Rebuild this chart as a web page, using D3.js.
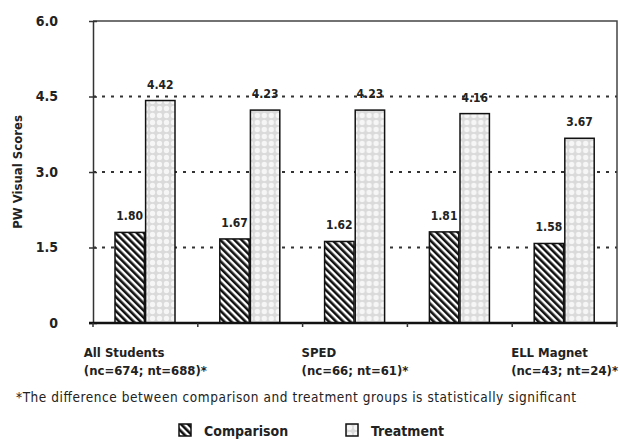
<!DOCTYPE html>
<html>
<head>
<meta charset="utf-8">
<script src="https://cdn.jsdelivr.net/npm/d3@7"></script>
<style>
    body { margin: 0; background: #fff; }
    #chart { width: 619px; height: 443px; }
    text { font-family: "Liberation Sans Narrow", "DejaVu Sans Condensed", Arial, sans-serif; fill: #222; }
</style>
</head>
<body>
<div id="chart"></div>
<script>
// values
var groups = ["All Students", "", "SPED", "", "ELL Magnet"];
var groupNotes = ["(nc=674; nt=688)*", "", "(nc=66; nt=61)*", "", "(nc=43; nt=24)*"];
var series = ["Comparison", "Treatment"];
var comparison = [1.80, 1.67, 1.62, 1.81, 1.58];
var treatment = [4.42, 4.23, 4.23, 4.16, 3.67];
var yTicks = [0, 1.5, 3.0, 4.5, 6.0];
var footnote = "*The difference between comparison and treatment groups is statistically significant";

var width = 619, height = 443;
var plotLeft = 93, plotRight = 617, plotTop = 21, plotBottom = 323;
var fontStack = "\"Liberation Sans Narrow\", \"DejaVu Sans Condensed\", Arial, sans-serif";

var svg = d3.select("#chart")
    .append("svg")
    .attr("width", width)
    .attr("height", height);

var defs = svg.append("defs");

// diagonal hatch for comparison
var hatch = defs.append("pattern")
    .attr("id", "hatch")
    .attr("patternUnits", "userSpaceOnUse")
    .attr("width", 5)
    .attr("height", 5)
    .attr("patternTransform", "rotate(-45)");
hatch.append("rect").attr("width", 5).attr("height", 5).attr("fill", "#fff");
hatch.append("rect").attr("width", 2.6).attr("height", 5).attr("fill", "#111");

// light dotted fill for treatment
var dots = defs.append("pattern")
    .attr("id", "dots")
    .attr("patternUnits", "userSpaceOnUse")
    .attr("width", 7)
    .attr("height", 7);
dots.append("rect").attr("width", 7).attr("height", 7).attr("fill", "#dadada");
dots.append("circle").attr("cx", 3.5).attr("cy", 3.5).attr("r", 2.7).attr("fill", "#f6f6f6");

var x0 = d3.scaleBand()
    .domain(d3.range(groups.length))
    .range([plotLeft, plotRight]);

var x1 = d3.scaleBand()
    .domain(series)
    .range([22, 82])
    .paddingInner(0.04);

var y = d3.scaleLinear()
    .domain([0, 6])
    .range([plotBottom, plotTop]);

var fills = { "Comparison": "url(#hatch)", "Treatment": "url(#dots)" };

// dotted gridlines
svg.selectAll("line.grid")
    .data(yTicks.filter(function(d) { return d > 0 && d < 6; }))
    .enter()
    .append("line")
        .attr("class", "grid")
        .attr("x1", plotLeft)
        .attr("x2", plotRight)
        .attr("y1", function(d) { return y(d); })
        .attr("y2", function(d) { return y(d); })
        .attr("stroke", "#333")
        .attr("stroke-width", 2)
        .attr("stroke-dasharray", "3,6");

// frame top and right
svg.append("path")
    .attr("d", "M" + plotLeft + "," + y(6) + "H" + plotRight + "V" + y(0))
    .attr("fill", "none")
    .attr("stroke", "#444")
    .attr("stroke-width", 1.5);

var rows = groups.map(function(g, i) {
    return [
        { key: "Comparison", value: comparison[i] },
        { key: "Treatment", value: treatment[i] }
    ];
});

var g = svg.selectAll("g.group")
    .data(rows)
    .enter()
    .append("g")
        .attr("class", "group")
        .attr("transform", function(d, i) { return "translate(" + x0(i) + ",0)"; });

g.selectAll("rect")
    .data(function(d) { return d; })
    .enter()
    .append("rect")
        .attr("x", function(d) { return x1(d.key); })
        .attr("width", x1.bandwidth())
        .attr("y", function(d) { return y(d.value); })
        .attr("height", function(d) { return y(0) - y(d.value); })
        .attr("fill", function(d) { return fills[d.key]; })
        .attr("stroke", "#111")
        .attr("stroke-width", 1.5);

g.selectAll("text.val")
    .data(function(d) { return d; })
    .enter()
    .append("text")
        .attr("class", "val")
        .attr("x", function(d) { return x1(d.key) + x1.bandwidth() / 2; })
        .attr("y", function(d) { return y(d.value) - 12; })
        .attr("text-anchor", "middle")
        .attr("font-size", 12)
        .attr("font-weight", "bold")
        .text(function(d) { return d.value.toFixed(2); });

// y axis
var yAxis = d3.axisLeft(y)
    .tickValues(yTicks)
    .tickFormat(function(d) { return d === 0 ? "0" : d.toFixed(1); })
    .tickSizeInner(4)
    .tickSizeOuter(0)
    .tickPadding(31);

var ya = svg.append("g")
    .attr("transform", "translate(" + plotLeft + ",0)")
    .call(yAxis);
ya.select(".domain").attr("stroke", "#333").attr("stroke-width", 1.5);
ya.selectAll(".tick line").attr("x2", 4).attr("x1", -4).attr("stroke", "#333").attr("stroke-width", 1.5);
ya.selectAll(".tick text")
    .attr("font-family", fontStack)
    .attr("font-size", 14)
    .attr("font-weight", "bold")
    .attr("fill", "#222");

svg.append("text")
    .attr("transform", "translate(22,172) rotate(-90)")
    .attr("text-anchor", "middle")
    .attr("font-size", 13)
    .attr("font-weight", "bold")
    .text("PW Visual Scores");

// x axis
var xa = svg.append("g")
    .attr("transform", "translate(0," + plotBottom + ")");
xa.append("line")
    .attr("x1", plotLeft - 4)
    .attr("x2", plotRight)
    .attr("stroke", "#111")
    .attr("stroke-width", 2.5);
xa.selectAll("line.tick")
    .data(d3.range(groups.length + 1))
    .enter()
    .append("line")
        .attr("class", "tick")
        .attr("x1", function(d) { return plotLeft + d * x0.step(); })
        .attr("x2", function(d) { return plotLeft + d * x0.step(); })
        .attr("y1", 0)
        .attr("y2", 4)
        .attr("stroke", "#333")
        .attr("stroke-width", 1.5);

// category labels: block centred on group, lines left aligned
groups.forEach(function(name, i) {
    if (!name) return;
    var cx = x0(i) + x0.bandwidth() / 2;
    var t = svg.append("text")
        .attr("font-size", 13)
        .attr("font-weight", "bold");
    var l1 = t.append("tspan").attr("y", 357).text(name);
    var l2 = t.append("tspan").attr("y", 375).text(groupNotes[i]);
    var w = Math.max(l1.node().getComputedTextLength(), l2.node().getComputedTextLength());
    l1.attr("x", cx - w / 2);
    l2.attr("x", cx - w / 2);
});

svg.append("text")
    .attr("x", 16)
    .attr("y", 402)
    .attr("font-family", "\"Liberation Sans\", Arial, sans-serif")
    .attr("font-size", 13.5)
    .attr("textLength", 560)
    .attr("lengthAdjust", "spacing")
    .text(footnote);

// legend
var legend = svg.selectAll("g.legend")
    .data(series)
    .enter()
    .append("g")
        .attr("class", "legend")
        .attr("transform", function(d, i) { return "translate(" + (179 + i * 167) + ",424)"; });

legend.append("rect")
    .attr("width", 12)
    .attr("height", 12)
    .attr("fill", function(d) { return fills[d]; })
    .attr("stroke", "#111")
    .attr("stroke-width", 1.5);

legend.append("text")
    .attr("x", 25)
    .attr("y", 12)
    .attr("font-size", 14)
    .attr("font-weight", "bold")
    .text(function(d) { return d; });
</script>
</body>
</html>
